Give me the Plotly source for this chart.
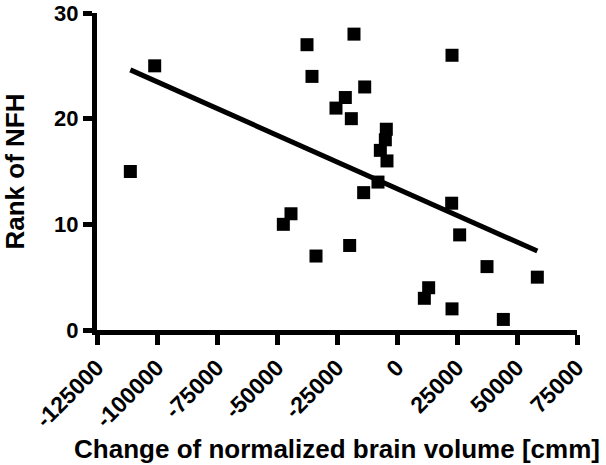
import numpy as np
import plotly.graph_objects as go

# Data
volume_change = [44310, 22920, 11390, 13190, 58470, 37500, -33750, -19720, 26110, -47360,
                 -44170, 22780, -13890, -7920, -111110, -4170, -6940, -4860, -4450, -19030,
                 -25420, -21530, -13460, -35420, -100960, 22920, -37500, -17920]
nfh_rank = [1, 2, 3, 4, 5, 6, 7, 8, 9, 10,
            11, 12, 13, 14, 15, 16, 17, 18, 19, 20,
            21, 22, 23, 24, 25, 26, 27, 28]
x_ticks = [-125000, -100000, -75000, -50000, -25000, 0, 25000, 50000, 75000]
y_ticks = [0, 10, 20, 30]

x = np.array(volume_change, dtype=float)
y = np.array(nfh_rank, dtype=float)
slope, intercept = np.polyfit(x, y, 1)
fit_x = np.array([x.min(), x.max()])
fit_y = slope * fit_x + intercept

FONT = "Liberation Sans"

fig = go.Figure()
fig.add_trace(go.Scatter(
    x=x, y=y, mode="markers",
    marker=dict(symbol="square", size=13, color="black", line=dict(width=0)),
    showlegend=False, cliponaxis=False,
))
fig.add_trace(go.Scatter(
    x=fit_x, y=fit_y, mode="lines",
    line=dict(color="black", width=5),
    showlegend=False, cliponaxis=False,
))

fig.update_layout(
    template="none",
    width=606, height=465,
    margin=dict(l=97, r=29.3, t=12.5, b=135, autoexpand=False),
    paper_bgcolor="white", plot_bgcolor="white",
    font=dict(family=FONT, color="black", size=22, weight="bold"),
)
fig.update_xaxes(
    range=[-125000, 75000], tickvals=x_ticks, ticktext=[str(v) for v in x_ticks],
    tickangle=-45, showgrid=False, zeroline=False, automargin=False,
    showline=True, linewidth=5, linecolor="black",
    ticks="outside", ticklen=10, tickwidth=5, tickcolor="black",
    tickfont=dict(family=FONT, size=23, weight="bold", color="black"),
    title=dict(text="Change of normalized brain volume [cmm]",
               font=dict(family=FONT, size=26, weight="bold", color="black"), standoff=10),
)
fig.update_yaxes(
    range=[0, 30], tickvals=y_ticks, showgrid=False, zeroline=False, automargin=False,
    showline=True, linewidth=5, linecolor="black",
    ticks="outside", ticklen=9, tickwidth=5, tickcolor="black",
    tickfont=dict(family=FONT, size=22, weight="bold", color="black"),
    title=dict(text="Rank of NFH", font=dict(family=FONT, size=26, weight="bold", color="black"),
               standoff=30),
)

fig.write_html("out.html", config={"displayModeBar": False},
               post_script="document.body.style.margin='0px';document.body.style.padding='0px';")
